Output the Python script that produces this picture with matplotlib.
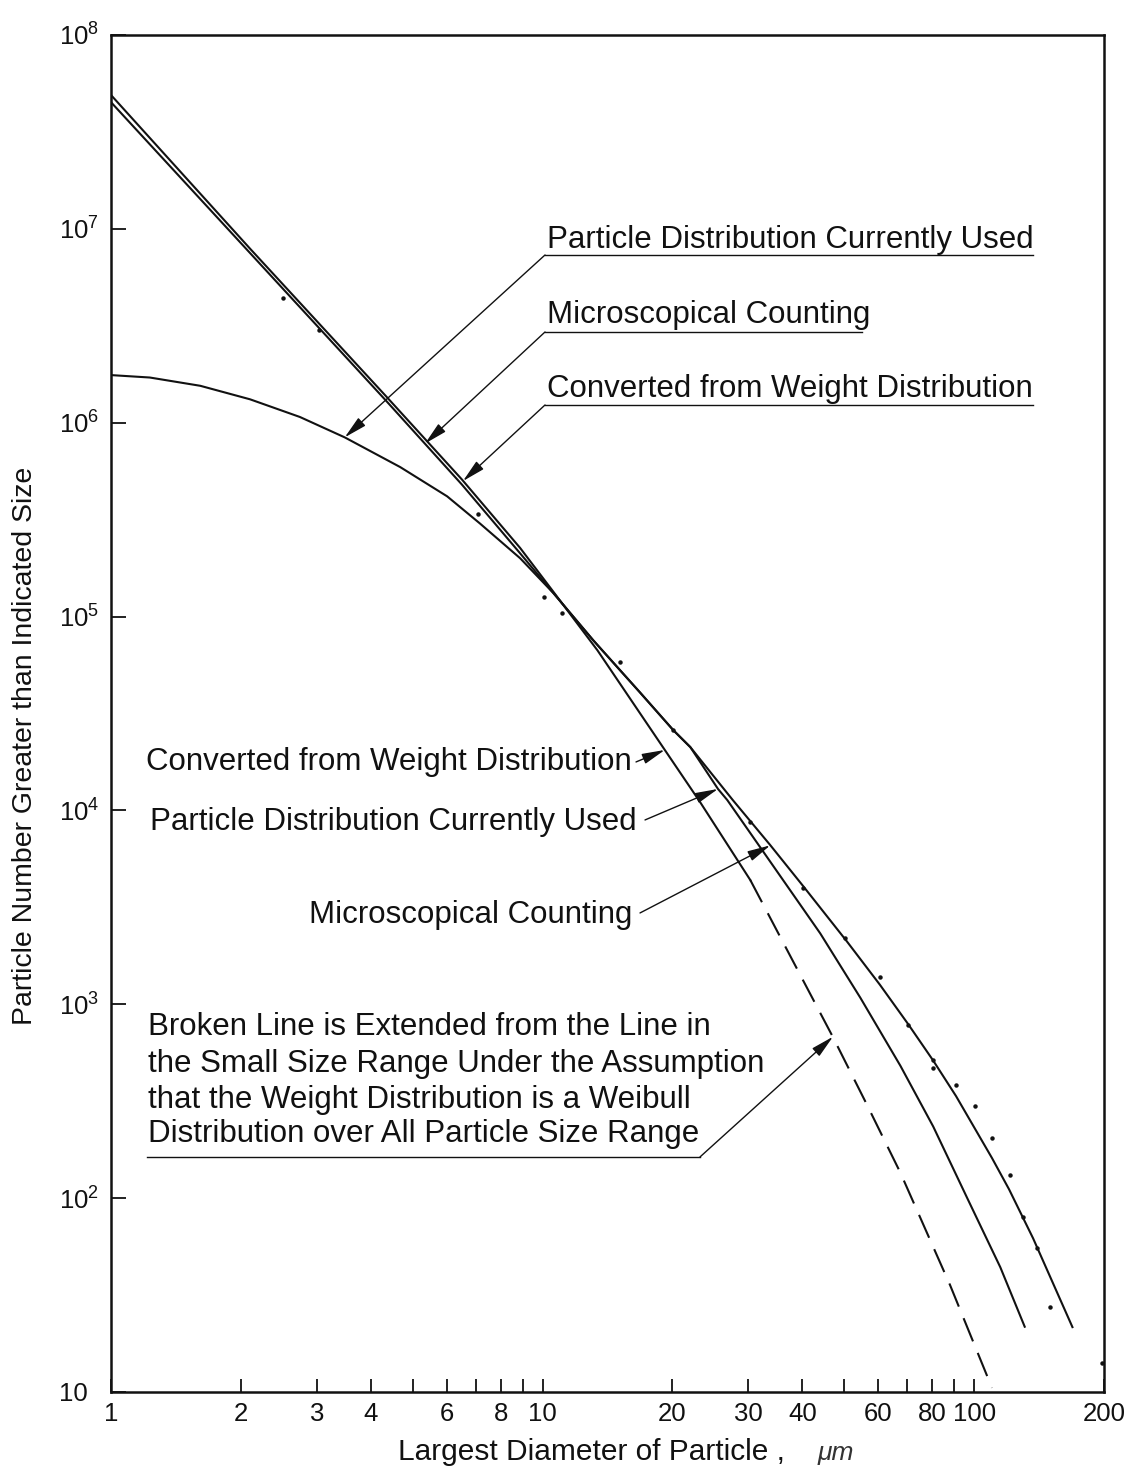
import matplotlib
matplotlib.use('Agg')
import matplotlib.pyplot as plt
from matplotlib.ticker import NullLocator

plt.rcParams['font.family'] = ['Liberation Sans', 'DejaVu Sans']
plt.rcParams['mathtext.fontset'] = 'custom'
plt.rcParams['mathtext.rm'] = 'Liberation Sans'
plt.rcParams['mathtext.it'] = 'Liberation Sans:italic'
plt.rcParams['mathtext.bf'] = 'Liberation Sans:bold'

# ---- data (diameter in um, cumulative number) ----
MICRO_D = [1.0, 2.10, 4.35, 6.50, 8.87, 10.6, 13.1, 16.8, 20.1, 22.0, 27.6, 33.7,
           40.2, 50.8, 60.5, 70.3, 80.4, 90.8, 110, 120.5, 137, 169]
MICRO_N = [4.5e7, 7.5e6, 1.29e6, 4.80e5, 2.12e5, 1.32e5, 7.55e4, 4.07e4, 2.59e4,
           2.12e4, 1.13e4, 6.62e3, 4.06e3, 2.10e3, 1.26e3, 791, 512, 336,
           161, 111, 62, 21.6]

PDCU_D = [1.0, 1.23, 1.61, 2.10, 2.74, 3.48, 4.68, 6.01, 7.16, 8.87, 10.6,
          13.1, 16.8, 20.1, 22.0, 25.5, 26.8, 44.0, 54.5, 67.5, 80.4, 96.4,
          115, 131]
PDCU_N = [1.76e6, 1.71e6, 1.55e6, 1.32e6, 1.07e6, 8.4e5, 5.9e5, 4.17e5,
          3.02e5, 2.0e5, 1.32e5, 7.55e4, 4.07e4, 2.59e4, 2.12e4, 1.29e4,
          1.13e4, 2.32e3, 1.08e3, 481, 234, 100, 44, 21.7]

CONV_D = [1.0, 2.10, 4.35, 6.50, 8.87, 10.6, 13.4, 19.2, 23.2, 30.3]
CONV_N = [4.9e7, 7.9e6, 1.36e6, 5.10e5, 2.26e5, 1.34e5, 6.7e4, 2.05e4, 1.10e4, 4.37e3]

# broken (Weibull) extension of the converted curve
EXT_D = [30.3, 47.1, 56.5, 67.5, 88.0, 110]
EXT_N = [4.37e3, 676, 302, 135, 35.5, 10.5]

# measured points (microscopical counting)
DOT_D = [2.50, 3.03, 7.09, 10.1, 11.1, 15.1, 20.1, 30.3, 40.2, 50.2, 60.5,
         70.3, 80.4, 80.4, 90.8, 100.5, 110, 121, 130, 140, 150, 198]
DOT_N = [4.4e6, 3.0e6, 3.4e5, 1.26e5, 1.04e5, 5.8e4, 2.6e4, 8.7e3, 3.97e3,
         2.19e3, 1.38e3, 781, 515, 470, 383, 299, 204, 132, 80, 55, 27.4, 14.1]

XTICKS = [1, 2, 3, 4, 5, 6, 7, 8, 9, 10, 20, 30, 40, 50, 60, 70, 80, 90, 100, 200]
XTICK_LABELS = ['1', '2', '3', '4', '', '6', '', '8', '', '10', '20', '30',
                '40', '', '60', '', '80', '', '100', '200']
YTICKS = [1e1, 1e2, 1e3, 1e4, 1e5, 1e6, 1e7, 1e8]
YTICK_LABELS = ['10'] + [r'$\mathregular{10^{%d}}$' % k for k in range(2, 9)]

TOP_LABELS = ['Particle Distribution Currently Used', 'Microscopical Counting',
              'Converted from Weight Distribution']
TOP_TIPS = [(3.48, 8.4e5), (5.34, 7.8e5), (6.54, 5.0e5)]
LOW_LABELS = ['Converted from Weight Distribution',
              'Particle Distribution Currently Used', 'Microscopical Counting']
LOW_TIPS = [(19.2, 2.05e4), (25.5, 1.29e4), (33.7, 6.6e3)]
BROKEN_LINES = ['Broken Line is Extended from the Line in',
                'the Small Size Range Under the Assumption',
                'that the Weight Distribution is a Weibull',
                'Distribution over All Particle Size Range']
BROKEN_TIP = (47.1, 680)

INK = '#111111'
ANN_FS = 22.5

fig = plt.figure(figsize=(11.27, 14.70), dpi=100)
ax = fig.add_axes([0.0985, 0.0531, 0.8811, 0.9231])
ax.set_xscale('log')
ax.set_yscale('log')

ax.plot(MICRO_D, MICRO_N, color=INK, lw=1.5)
ax.plot(PDCU_D, PDCU_N, color=INK, lw=1.5)
ax.plot(CONV_D, CONV_N, color=INK, lw=1.5)
ax.plot(EXT_D, EXT_N, color=INK, lw=1.5, linestyle=(0, (12, 6)))
ax.plot(DOT_D, DOT_N, linestyle='none', marker='o', ms=2.2, color=INK)

ax.set_xlim(1, 200)
ax.set_ylim(10, 1e8)
ax.set_xticks(XTICKS)
ax.set_xticklabels(XTICK_LABELS, fontsize=18.5)
ax.set_yticks(YTICKS)
ax.set_yticklabels(YTICK_LABELS, fontsize=18.5, ha='left')
ax.xaxis.set_minor_locator(NullLocator())
ax.yaxis.set_minor_locator(NullLocator())
ax.tick_params(axis='x', direction='in', length=9.5, width=1.3, pad=7, colors=INK)
ax.tick_params(axis='y', direction='in', length=11, width=1.3, pad=37.5, colors=INK)
for sp in ax.spines.values():
    sp.set_linewidth(1.8)
    sp.set_color(INK)

fig.text(0.0222, 0.4925, 'Particle Number Greater than Indicated Size',
         rotation=90, ha='center', va='center', fontsize=20.5, color=INK)
fig.text(398 / 1127, 0.0068, 'Largest Diameter of Particle ,',
         ha='left', va='baseline', fontsize=21.5, color=INK)
fig.text(818 / 1127, 0.0068, 'μm', ha='left', va='baseline', fontsize=19,
         color='#333333', style='italic')

arrow_kw = dict(arrowstyle='-|>,head_length=0.7,head_width=0.16',
                mutation_scale=20, color=INK, lw=1.0, shrinkA=0, shrinkB=0)


def fx(px):
    return (px - 111) / 993.0


def fy(py):
    return (1392 - py) / 1357.0


# upper-right labels: underline plus leader to the curve
top_base = [248, 323, 397]
top_line = [255, 332, 405]
top_end = [1033, 862, 1033]
for label, tip, yb, yl, xe in zip(TOP_LABELS, TOP_TIPS, top_base, top_line, top_end):
    ax.text(fx(547), fy(yb), label, transform=ax.transAxes, ha='left',
            va='baseline', fontsize=ANN_FS, color=INK)
    ax.plot([fx(545), fx(xe)], [fy(yl), fy(yl)], transform=ax.transAxes,
            color=INK, lw=1.0, clip_on=False)
    ax.annotate('', xy=tip, xycoords='data', xytext=(fx(545), fy(yl)),
                textcoords='axes fraction', arrowprops=arrow_kw)

# lower-left labels with short arrows
low_right = [632, 637, 632]
low_base = [770, 830, 923]
low_start = [(636, 762), (645, 820), (640, 913)]
for label, tip, xr, yb, st in zip(LOW_LABELS, LOW_TIPS, low_right, low_base, low_start):
    ax.text(fx(xr), fy(yb), label, transform=ax.transAxes, ha='right',
            va='baseline', fontsize=ANN_FS, color=INK)
    ax.annotate('', xy=tip, xycoords='data', xytext=(fx(st[0]), fy(st[1])),
                textcoords='axes fraction', arrowprops=arrow_kw)

# note on the broken line
for line, yb in zip(BROKEN_LINES, [1035, 1072, 1108, 1142]):
    ax.text(fx(148), fy(yb), line, transform=ax.transAxes, ha='left',
            va='baseline', fontsize=ANN_FS, color=INK)
ax.plot([fx(147), fx(700)], [fy(1157), fy(1157)], transform=ax.transAxes,
        color=INK, lw=1.0, clip_on=False)
ax.annotate('', xy=BROKEN_TIP, xycoords='data', xytext=(fx(700), fy(1157)),
            textcoords='axes fraction', arrowprops=arrow_kw)

fig.savefig('out.png', dpi=100)
